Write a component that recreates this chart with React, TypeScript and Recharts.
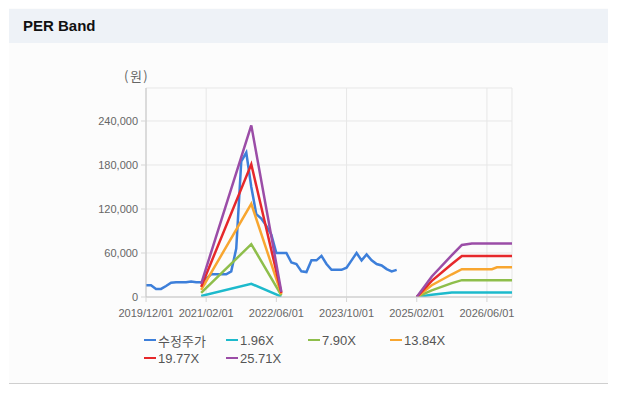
import React from 'react';
import { LineChart, Line, XAxis, YAxis, CartesianGrid } from 'recharts';

const xTickLabels = ['2019/12/01', '2021/02/01', '2022/06/01', '2023/10/01', '2025/02/01', '2026/06/01'];
const xTickIndex = [0, 12, 26, 40, 54, 68];
const yTicks = [0, 60000, 120000, 180000, 240000];

const priceIndex = [
  0, 1, 2, 3, 4, 5, 6, 7, 8, 9, 10, 11, 12, 13, 14, 15, 16, 17, 18, 19, 20, 21, 22, 23, 24, 25,
  26, 27, 28, 29, 30, 31, 32, 33, 34, 35, 36, 37, 38, 39, 40, 41, 42, 43, 44, 45, 46, 47, 48, 49, 50,
];
const priceValues = [
  16000, 16000, 11000, 11000, 15000, 19500, 20000, 20000, 20000, 21000, 20000, 20000, 25000, 31000,
  31000, 31000, 31000, 35000, 66000, 185000, 197000, 150000, 113000, 107000, 97000, 85000,
  60000, 60000, 60000, 47000, 45000, 35000, 34000, 50000, 50000, 56000, 45000, 37000, 37000, 37000,
  40000, 50000, 60000, 50000, 58000, 50000, 45000, 43000, 38000, 35000, 37000,
];

const bandIndex = [11, 21, 27, 40, 54, 57, 61, 63, 65, 69, 70, 73];
const band196 = [1400, 18000, 550, null, 0, 3000, 6000, 6300, 6300, 6300, 6300, 6300];
const band790 = [5500, 72000, 2200, null, 0, 9000, 19000, 23000, 23000, 23000, 23000, 23000];
const band1384 = [9700, 127000, 3800, null, 0, 16000, 31000, 38000, 38000, 38000, 40500, 40500];
const band1977 = [13800, 181000, 5500, null, 0, 22000, 45000, 56000, 56000, 56000, 56000, 56000];
const band2571 = [18000, 234000, 7000, null, 0, 28000, 57000, 71000, 73000, 73000, 73000, 73000];

const seriesNames = ['수정주가', '1.96X', '7.90X', '13.84X', '19.77X', '25.71X'];
const seriesColors = ['#3D7FDA', '#1DBACC', '#8EBE4B', '#F8A630', '#E6282B', '#9B4DA7'];

const toPoints = (idx: number[], vals: (number | null)[]) => idx.map((i, k) => ({ i, v: vals[k] }));

const seriesData = [
  toPoints(priceIndex, priceValues),
  toPoints(bandIndex, band196),
  toPoints(bandIndex, band790),
  toPoints(bandIndex, band1384),
  toPoints(bandIndex, band1977),
  toPoints(bandIndex, band2571),
];

const FONT = '"Liberation Sans", Arial, "Noto Sans CJK KR", sans-serif';
const fmt = (v: number) => v.toLocaleString('en-US');

export default function App() {
  return (
    <div style={{ position: 'relative', width: 618, height: 394, margin: -8, background: '#ffffff', fontFamily: FONT, overflow: 'hidden' }}>
      <div style={{ position: 'absolute', left: 9, top: 7, width: 599, height: 375, background: '#fcfcfc', borderTop: '1px solid #d9d9d9', borderBottom: '1px solid #cfcfcf' }} />
      <div style={{ position: 'absolute', left: 9, top: 9, width: 599, height: 34, background: '#eef2f7' }} />
      <div style={{ position: 'absolute', left: 23, top: 17, fontSize: 15, fontWeight: 'bold', color: '#111', lineHeight: '18px' }}>PER Band</div>
      <div style={{ position: 'absolute', left: 124, top: 68, fontSize: 13, letterSpacing: 1.5, color: '#666', fontFamily: '"Noto Sans CJK KR", sans-serif', lineHeight: '16px' }}>(원)</div>
      <div style={{ position: 'absolute', left: 0, top: 0 }}>
        <LineChart width={618} height={394} margin={{ top: 88, right: 106, bottom: 67, left: 86 }}>
          <CartesianGrid stroke="#e7e7e7" />
          <XAxis
            dataKey="i"
            type="number"
            domain={[0, 73]}
            ticks={xTickIndex}
            tickFormatter={(v: number) => xTickLabels[xTickIndex.indexOf(v)] ?? ''}
            height={30}
            tickSize={5}
            tickMargin={7}
            tick={{ fontSize: 11, fill: '#666', fontFamily: FONT }}
            axisLine={{ stroke: '#c4c4c4' }}
            tickLine={{ stroke: '#d6d6d6' }}
            allowDataOverflow
          />
          <XAxis
            xAxisId="top"
            orientation="top"
            type="number"
            domain={[0, 73]}
            height={0}
            tick={false}
            tickLine={false}
            axisLine={{ stroke: '#c4c4c4' }}
          />
          <YAxis
            type="number"
            domain={[0, 285000]}
            ticks={yTicks}
            tickFormatter={fmt}
            width={60}
            tickSize={5}
            tickMargin={3}
            tick={{ fontSize: 11, fill: '#666', fontFamily: FONT }}
            axisLine={{ stroke: '#c4c4c4' }}
            tickLine={{ stroke: '#d6d6d6' }}
            allowDataOverflow
          />
          <YAxis
            yAxisId="right"
            orientation="right"
            width={0}
            tick={false}
            tickLine={false}
            axisLine={{ stroke: '#c4c4c4' }}
          />
          {seriesData.map((d, k) => (
            <Line
              key={seriesNames[k]}
              data={d}
              dataKey="v"
              name={seriesNames[k]}
              type="linear"
              stroke={seriesColors[k]}
              strokeWidth={2.5}
              dot={false}
              activeDot={false}
              isAnimationActive={false}
            />
          ))}
        </LineChart>
      </div>
      <div style={{ position: 'absolute', left: 144, top: 331, width: 340, display: 'flex', flexWrap: 'wrap' }}>
        {seriesNames.map((n, k) => (
          <div key={n} style={{ width: 82, height: 18, display: 'flex', alignItems: 'center', fontSize: 13, color: '#555', fontFamily: '"Liberation Sans", Arial, "Noto Sans CJK KR", sans-serif' }}>
            <span style={{ display: 'inline-block', width: 12, height: 2.5, background: seriesColors[k], marginRight: 2 }} />
            <span>{n}</span>
          </div>
        ))}
      </div>
    </div>
  );
}
